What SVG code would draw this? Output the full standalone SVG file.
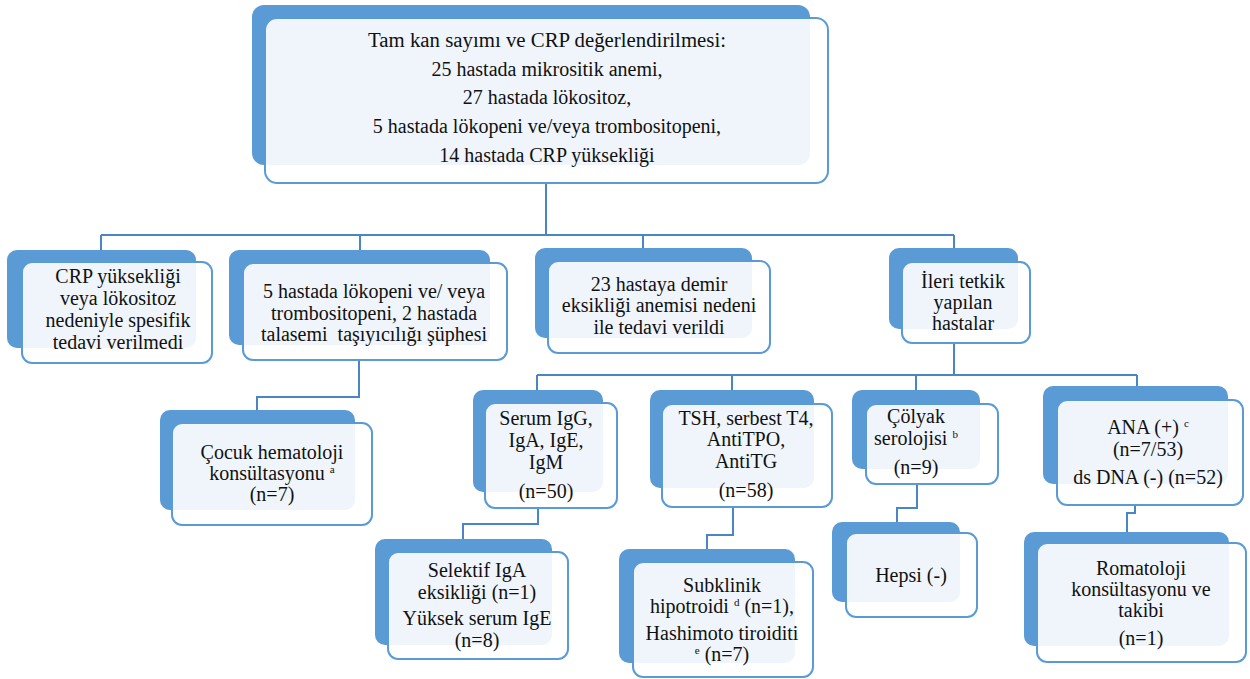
<svg xmlns="http://www.w3.org/2000/svg" width="1250" height="679" viewBox="0 0 1250 679">
<style>
.bk{fill:#5b9bd5}
.fr{fill:#ffffff;fill-opacity:0.9;stroke:#5b9bd5;stroke-width:2}
.t{font-family:"Liberation Serif","Times New Roman",serif;font-size:20px;fill:#111;text-anchor:middle}
.sup{font-size:11px}
.c{fill:none;stroke:#4a86c5;stroke-width:2}
</style>
<rect width="1250" height="679" fill="#fff"/>
<g id="connectors" class="c">
<path d="M546 183 V235 M101 235 H954 M101 235 V250 M360 235 V250 M643 235 V248 M954 235 V248"/>
<path d="M359 360 V397 H257 V410"/>
<path d="M954 343 V375 M537 375 H1137 M537 375 V390 M732 375 V390 M916 375 V390 M1137 375 V386"/>
<path d="M538 508 V524 H463 V539"/>
<path d="M733 507 V535 H707 V549"/>
<path d="M917 484 V508 H897 V522"/>
<path d="M1135 505 V513 H1127 V532"/>
</g>
<g id="n0">
<rect class="bk" x="252" y="5" width="558" height="160" rx="12"/>
<rect class="fr" x="265" y="18" width="563" height="165" rx="12"/>
<text class="t" x="547" y="47" textLength="358" lengthAdjust="spacingAndGlyphs">Tam kan sayımı ve CRP değerlendirilmesi:</text>
<text class="t" x="547" y="76">25 hastada mikrositik anemi,</text>
<text class="t" x="547" y="104">27 hastada lökositoz,</text>
<text class="t" x="547" y="133">5 hastada lökopeni ve/veya trombositopeni,</text>
<text class="t" x="547" y="162">14 hastada CRP yüksekliği</text>
</g>
<g id="nA">
<rect class="bk" x="7" y="250" width="189" height="98" rx="10"/>
<rect class="fr" x="22" y="262" width="190" height="101" rx="10"/>
<text class="t" x="118" y="283">CRP yüksekliği</text>
<text class="t" x="118" y="305">veya lökositoz</text>
<text class="t" x="118" y="327">nedeniyle spesifik</text>
<text class="t" x="118" y="349">tedavi verilmedi</text>
</g>
<g id="nB">
<rect class="bk" x="229" y="250" width="261" height="95" rx="10"/>
<rect class="fr" x="243" y="263" width="264" height="97" rx="10"/>
<text class="t" x="374" y="298">5 hastada lökopeni ve/ veya</text>
<text class="t" x="374" y="320">trombositopeni, 2 hastada</text>
<text class="t" x="374" y="341" xml:space="preserve">talasemi  taşıyıcılığı şüphesi</text>
</g>
<g id="nC">
<rect class="bk" x="535" y="248" width="217" height="90" rx="10"/>
<rect class="fr" x="548" y="261" width="222" height="92" rx="10"/>
<text class="t" x="659" y="291">23 hastaya demir</text>
<text class="t" x="659" y="312">eksikliği anemisi nedeni</text>
<text class="t" x="659" y="334">ile tedavi verildi</text>
</g>
<g id="nD">
<rect class="bk" x="889" y="248" width="129" height="81" rx="10"/>
<rect class="fr" x="902" y="262" width="128" height="81" rx="10"/>
<text class="t" x="963" y="288">İleri tetkik</text>
<text class="t" x="963" y="309">yapılan</text>
<text class="t" x="963" y="330">hastalar</text>
</g>
<g id="nCocuk">
<rect class="bk" x="160" y="410" width="195" height="100" rx="10"/>
<rect class="fr" x="172" y="423" width="200" height="102" rx="10"/>
<text class="t" x="272" y="459">Çocuk hematoloji</text>
<text class="t" x="272" y="480">konsültasyonu <tspan class="sup" dy="-7">a</tspan></text>
<text class="t" x="272" y="501">(n=7)</text>
</g>
<g id="nSerum">
<rect class="bk" x="473" y="390" width="130" height="102" rx="10"/>
<rect class="fr" x="485" y="403" width="132" height="105" rx="10"/>
<text class="t" x="546" y="425">Serum IgG,</text>
<text class="t" x="546" y="447">IgA, IgE,</text>
<text class="t" x="546" y="469">IgM</text>
<text class="t" x="546" y="498">(n=50)</text>
</g>
<g id="nTSH">
<rect class="bk" x="650" y="390" width="164" height="98" rx="10"/>
<rect class="fr" x="662" y="404" width="170" height="103" rx="10"/>
<text class="t" x="746" y="425">TSH, serbest T4,</text>
<text class="t" x="746" y="446">AntiTPO,</text>
<text class="t" x="746" y="468">AntiTG</text>
<text class="t" x="746" y="497">(n=58)</text>
</g>
<g id="nColyak">
<rect class="bk" x="852" y="390" width="128" height="79" rx="10"/>
<rect class="fr" x="866" y="404" width="132" height="80" rx="10"/>
<text class="t" x="916" y="423">Çölyak</text>
<text class="t" x="916" y="445">serolojisi <tspan class="sup" dy="-7">b</tspan></text>
<text class="t" x="916" y="474">(n=9)</text>
</g>
<g id="nANA">
<rect class="bk" x="1043" y="386" width="185" height="98" rx="10"/>
<rect class="fr" x="1057" y="400" width="186" height="105" rx="10"/>
<text class="t" x="1148" y="434">ANA (+) <tspan class="sup" dy="-7">c</tspan></text>
<text class="t" x="1148" y="456">(n=7/53)</text>
<text class="t" x="1148" y="484">ds DNA (-) (n=52)</text>
</g>
<g id="nSelektif">
<rect class="bk" x="375" y="539" width="177" height="106" rx="10"/>
<rect class="fr" x="388" y="552" width="180" height="107" rx="10"/>
<text class="t" x="477" y="577">Selektif IgA</text>
<text class="t" x="477" y="599">eksikliği (n=1)</text>
<text class="t" x="477" y="625">Yüksek serum IgE</text>
<text class="t" x="477" y="647">(n=8)</text>
</g>
<g id="nSubklinik">
<rect class="bk" x="619" y="549" width="176" height="114" rx="10"/>
<rect class="fr" x="633" y="562" width="180" height="115" rx="10"/>
<text class="t" x="722" y="592">Subklinik</text>
<text class="t" x="722" y="613">hipotroidi <tspan class="sup" dy="-7">d</tspan><tspan dy="7"> (n=1),</tspan></text>
<text class="t" x="722" y="640">Hashimoto tiroiditi</text>
<text class="t" x="722" y="661"><tspan class="sup" dy="-7">e</tspan><tspan dy="7"> (n=7)</tspan></text>
</g>
<g id="nHepsi">
<rect class="bk" x="832" y="522" width="128" height="80" rx="10"/>
<rect class="fr" x="846" y="533" width="131" height="84" rx="10"/>
<text class="t" x="911" y="582">Hepsi (-)</text>
</g>
<g id="nRomatoloji">
<rect class="bk" x="1024" y="532" width="205" height="114" rx="10"/>
<rect class="fr" x="1037" y="543" width="209" height="119" rx="10"/>
<text class="t" x="1141" y="575">Romatoloji</text>
<text class="t" x="1141" y="596">konsültasyonu ve</text>
<text class="t" x="1141" y="617">takibi</text>
<text class="t" x="1141" y="645">(n=1)</text>
</g>
</svg>
